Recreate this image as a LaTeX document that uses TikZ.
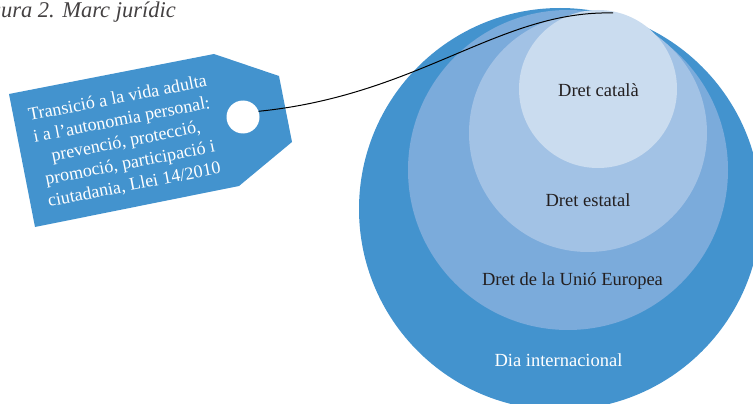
\documentclass[tikz,border=0pt]{standalone}
\usepackage{fontspec}
\setmainfont{Liberation Serif}
\definecolor{blueA}{RGB}{67,147,206}
\definecolor{blueB}{RGB}{123,171,219}
\definecolor{blueC}{RGB}{162,194,229}
\definecolor{blueD}{RGB}{202,220,239}
\definecolor{ink}{RGB}{35,31,32}
\tikzset{
  lbl/.style={font=\fontsize{18.5}{22}\selectfont, text=ink, anchor=base, inner sep=0pt},
  taglbl/.style={font=\fontsize{18}{22}\selectfont, text=white, align=center, inner sep=0pt, rotate=11},
  ring/.style={circle, inner sep=0pt, draw=none}
}
\begin{document}
\begin{tikzpicture}[x=1pt,y=-1pt]
\clip (0,0) rectangle (753,404);
% title (partly cut off at the left edge)
\node[anchor=base east, inner sep=0pt, font=\fontsize{22.5}{26}\selectfont\itshape, text=ink!85] (title) at (176,18) {Figura 2. Marc jurídic};
% tag
\fill[blueA] (9,94) -- (214,54) -- (279,76) -- (292,142) -- (239,186) -- (35,227) -- cycle;
\node[circle, fill=white, minimum size=33pt, inner sep=0pt] (hole) at (243,117) {};
\node[taglbl] (tagtext) at (126,142) {Transició a la vida adulta\\i a l’autonomia personal:\\prevenció, protecció,\\promoció, participació i\\ciutadania, Llei 14/2010};
% nested circles
\node[ring, fill=blueA, minimum size=402pt] (c1) at (560,209) {};
\node[ring, fill=blueB, minimum size=320pt] (c2) at (568,170) {};
\node[ring, fill=blueC, minimum size=238pt] (c3) at (588,133) {};
\node[ring, fill=blueD, minimum size=158pt] (c4) at (598,89) {};
\node[lbl] (l4) at (598.5,96) {Dret català};
\node[lbl] (l3) at (588,206) {Dret estatal};
\node[lbl] (l2) at (572.5,285) {Dret de la Unió Europea};
\node[lbl, text=white] (l1) at (558.5,366) {Dia internacional};
% string
\coordinate (tip) at (613,13);
\draw[black, line width=1pt] (hole.20) .. controls (420,95) and (500,10) .. (tip);
\end{tikzpicture}
\end{document}
